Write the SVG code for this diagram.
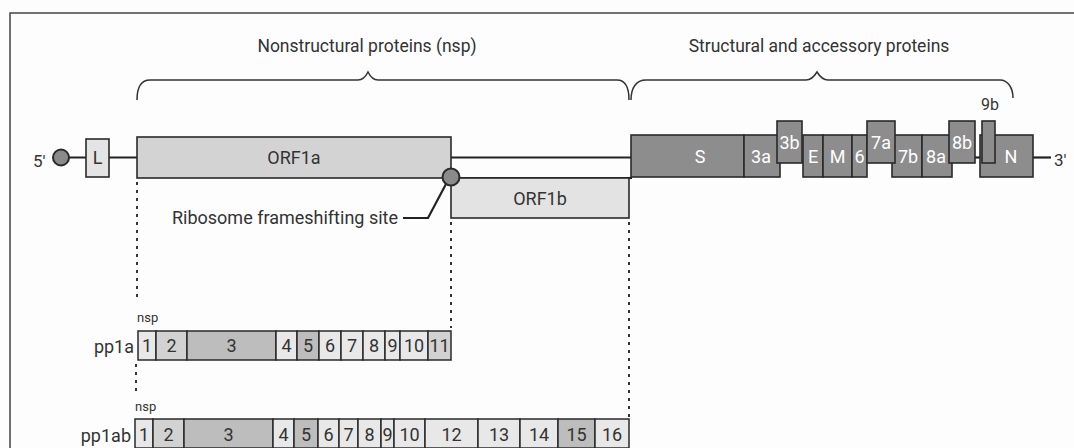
<svg xmlns="http://www.w3.org/2000/svg" width="1074" height="448" viewBox="0 0 1074 448">
  <style>
    text { font-family: Roboto, "Liberation Sans", sans-serif; fill: #333; }
    .head { font-size: 17.5px; }
    .lbl { font-size: 18px; text-anchor: middle; }
    .gene { stroke: #2a2a2a; stroke-width: 1.6; }
    .orf1a { fill: #d3d3d3; }
    .orf1b { fill: #e3e3e3; }
    .light { fill: #e4e4e4; }
    .sp { fill: #8d8d8d; }
    .sp-t { font-size: 18px; text-anchor: middle; fill: #fff; }
    .cell { stroke: #2a2a2a; stroke-width: 1.5; }
    .c-l { fill: #e8e8e8; }
    .c-m { fill: #d2d2d2; }
    .c-d { fill: #bdbdbd; }
    .num { font-size: 18px; text-anchor: middle; }
    .line { stroke: #222; stroke-width: 2.2; fill: none; }
    .dots { stroke: #333; stroke-width: 2; stroke-dasharray: 3 5; fill: none; }
    .brace { stroke: #333; stroke-width: 1.5; fill: none; }
    .small { font-size: 13px; }
  </style>

  <rect width="1074" height="448" fill="#fdfdfd"/>
  <!-- panel frame -->
  <path d="M10,448 V13 H1074" fill="none" stroke="#444" stroke-width="1.5"/>

  <!-- section headings and braces -->
  <g id="nsp-heading">
    <text class="head" x="367" y="52" text-anchor="middle">Nonstructural proteins (nsp)</text>
    <path class="brace" d="M137,100 C137,88 140,80 150,80 L358,80 Q364,80 368,72 Q372,80 378,80 L617,80 C626,80 629,88 629,100"/>
  </g>
  <g id="structural-heading">
    <text class="head" x="819" y="52" text-anchor="middle">Structural and accessory proteins</text>
    <path class="brace" d="M631,100 C631,88 636,80 646,80 L806,80 Q812,80 817,72 Q822,80 828,80 L1000,80 C1008,80 1013,88 1013,98"/>
  </g>

  <!-- connectors: genome backbone, guide lines, leader -->
  <g id="connectors">
    <line class="line" x1="61" y1="157.5" x2="138" y2="157.5"/>
    <line class="line" x1="451" y1="157.5" x2="632" y2="157.5"/>
    <line class="line" x1="451" y1="178" x2="632" y2="178"/>
    <line class="line" x1="975" y1="157.5" x2="982" y2="157.5"/>
    <line class="line" x1="1033" y1="157.5" x2="1051" y2="157.5"/>
    <polyline class="line" points="403,218 428,218 446,184" stroke-width="1.6"/>
    <line class="dots" x1="137" y1="182" x2="137" y2="302"/>
    <line class="dots" x1="136" y1="364" x2="136" y2="396"/>
    <line class="dots" x1="451" y1="222" x2="451" y2="328"/>
    <line class="dots" x1="629" y1="222" x2="629" y2="417"/>
  </g>

  <g id="five-prime">
    <text x="33" y="167" font-size="17">5'</text>
    <circle cx="61" cy="157.5" r="8" fill="#8a8a8a" stroke="#2a2a2a" stroke-width="2"/>
  </g>
  <g id="leader">
    <rect class="gene light" x="86" y="139" width="23" height="38"/>
    <text class="lbl" x="97.5" y="164">L</text>
  </g>
  <g id="orf1a">
    <rect class="gene orf1a" x="137" y="137" width="314" height="41"/>
    <text class="lbl" x="294" y="164">ORF1a</text>
  </g>
  <g id="orf1b">
    <rect class="gene orf1b" x="451" y="178" width="178" height="40"/>
    <text class="lbl" x="540" y="205">ORF1b</text>
  </g>
  <g id="frameshift-site">
    <circle cx="451" cy="177" r="8.5" fill="#8a8a8a" stroke="#2a2a2a" stroke-width="2"/>
    <text x="398" y="224" font-size="18" text-anchor="end">Ribosome frameshifting site</text>
  </g>

  <!-- structural and accessory genes -->
  <g id="gene-S"><rect class="gene sp" x="631" y="135" width="113" height="42"/><text class="sp-t" x="700" y="163">S</text></g>
  <g id="gene-3a"><rect class="gene sp" x="744" y="135" width="36" height="42"/><text class="sp-t" x="761" y="163">3a</text></g>
  <g id="gene-3b"><rect class="gene sp" x="777" y="121" width="25" height="42"/><text class="sp-t" x="789.5" y="149">3b</text></g>
  <g id="gene-E"><rect class="gene sp" x="803" y="135" width="20" height="42"/><text class="sp-t" x="813" y="163">E</text></g>
  <g id="gene-M"><rect class="gene sp" x="823" y="135" width="29" height="42"/><text class="sp-t" x="837.5" y="163">M</text></g>
  <g id="gene-6"><rect class="gene sp" x="852" y="135" width="15" height="42"/><text class="sp-t" x="859.5" y="163">6</text></g>
  <g id="gene-7b"><rect class="gene sp" x="892" y="135" width="30" height="42"/><text class="sp-t" x="908" y="163">7b</text></g>
  <g id="gene-7a"><rect class="gene sp" x="867" y="121" width="28" height="42"/><text class="sp-t" x="881" y="149">7a</text></g>
  <g id="gene-8a"><rect class="gene sp" x="922" y="135" width="30" height="42"/><text class="sp-t" x="936" y="163">8a</text></g>
  <g id="gene-8b"><rect class="gene sp" x="949" y="121" width="26" height="42"/><text class="sp-t" x="962" y="149">8b</text></g>
  <g id="gene-N"><rect class="gene sp" x="980" y="135" width="53" height="42"/><text class="sp-t" x="1011" y="163">N</text></g>
  <g id="gene-9b">
    <rect class="gene sp" x="982" y="121" width="13" height="42"/>
    <text x="990" y="110" font-size="16" text-anchor="middle">9b</text>
  </g>
  <g id="three-prime"><text x="1054" y="166" font-size="17">3'</text></g>

  <!-- pp1a polyprotein -->
  <g id="pp1a">
    <text x="134" y="353" font-size="18" text-anchor="end">pp1a</text>
    <text class="small" x="137" y="322">nsp</text>
    <rect class="cell c-l" x="138" y="331" width="18" height="29"/><text class="num" x="147" y="352">1</text>
    <rect class="cell c-m" x="156" y="331" width="31" height="29"/><text class="num" x="171.5" y="352">2</text>
    <rect class="cell c-d" x="187" y="331" width="89" height="29"/><text class="num" x="231.5" y="352">3</text>
    <rect class="cell c-l" x="276" y="331" width="21" height="29"/><text class="num" x="286.5" y="352">4</text>
    <rect class="cell c-d" x="297" y="331" width="22" height="29"/><text class="num" x="308" y="352">5</text>
    <rect class="cell c-l" x="319" y="331" width="22" height="29"/><text class="num" x="330" y="352">6</text>
    <rect class="cell c-l" x="341" y="331" width="22" height="29"/><text class="num" x="352" y="352">7</text>
    <rect class="cell c-l" x="363" y="331" width="22" height="29"/><text class="num" x="374" y="352">8</text>
    <rect class="cell c-l" x="385" y="331" width="15" height="29"/><text class="num" x="392.5" y="352">9</text>
    <rect class="cell c-l" x="400" y="331" width="28" height="29"/><text class="num" x="414" y="352">10</text>
    <rect class="cell c-m" x="428" y="331" width="23" height="29"/><text class="num" x="439.5" y="352">11</text>
  </g>

  <!-- pp1ab polyprotein -->
  <g id="pp1ab">
    <text x="131" y="442" font-size="18" text-anchor="end">pp1ab</text>
    <text class="small" x="135" y="411">nsp</text>
    <rect class="cell c-l" x="135" y="419" width="18" height="29"/><text class="num" x="144" y="441">1</text>
    <rect class="cell c-m" x="153" y="419" width="31" height="29"/><text class="num" x="168.5" y="441">2</text>
    <rect class="cell c-d" x="184" y="419" width="89" height="29"/><text class="num" x="228.5" y="441">3</text>
    <rect class="cell c-l" x="273" y="419" width="21" height="29"/><text class="num" x="283.5" y="441">4</text>
    <rect class="cell c-d" x="294" y="419" width="24" height="29"/><text class="num" x="306" y="441">5</text>
    <rect class="cell c-l" x="318" y="419" width="21" height="29"/><text class="num" x="328.5" y="441">6</text>
    <rect class="cell c-l" x="339" y="419" width="19" height="29"/><text class="num" x="348.5" y="441">7</text>
    <rect class="cell c-l" x="358" y="419" width="23" height="29"/><text class="num" x="369.5" y="441">8</text>
    <rect class="cell c-l" x="381" y="419" width="13" height="29"/><text class="num" x="387.5" y="441">9</text>
    <rect class="cell c-l" x="394" y="419" width="31" height="29"/><text class="num" x="409.5" y="441">10</text>
    <rect class="cell c-l" x="425" y="419" width="53" height="29"/><text class="num" x="451.5" y="441">12</text>
    <rect class="cell c-l" x="478" y="419" width="42" height="29"/><text class="num" x="499" y="441">13</text>
    <rect class="cell c-l" x="520" y="419" width="38" height="29"/><text class="num" x="539" y="441">14</text>
    <rect class="cell c-d" x="558" y="419" width="37" height="29"/><text class="num" x="576.5" y="441">15</text>
    <rect class="cell c-l" x="595" y="419" width="34" height="29"/><text class="num" x="612" y="441">16</text>
  </g>
</svg>
